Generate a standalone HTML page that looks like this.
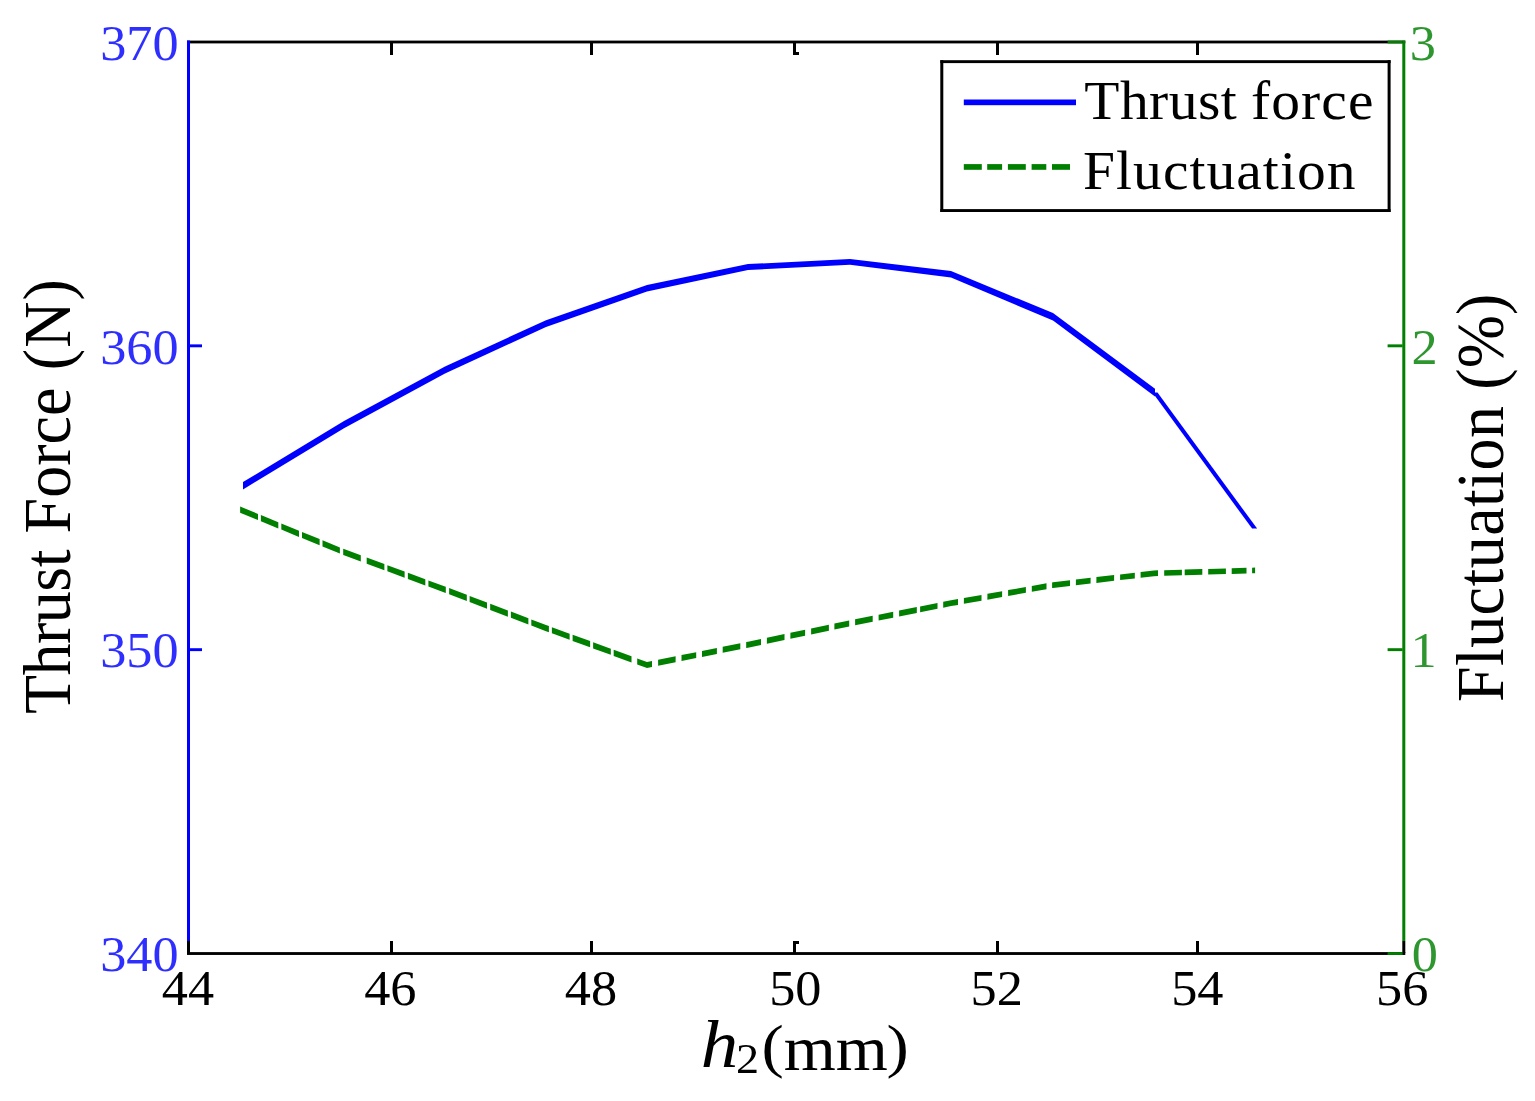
<!DOCTYPE html>
<html lang="en"><head><meta charset="utf-8"><title>Thrust force and fluctuation vs h2</title>
<style>html,body{margin:0;padding:0;background:#fff;overflow:hidden}svg{display:block}text{font-family:"Liberation Serif","DejaVu Serif",serif;}</style></head><body>
<svg width="1535" height="1101" viewBox="0 0 1535 1101">
<rect x="0" y="0" width="1535" height="1101" fill="#fff"/>
<g id="axes">
<rect x="187.00" y="40.60" width="1218.30" height="2.80" fill="#000000"/>
<rect x="187.00" y="952.10" width="1218.30" height="2.85" fill="#000000"/>
<rect x="187.00" y="941.00" width="3.00" height="12.00" fill="#000000"/>
<rect x="390.00" y="941.00" width="3.00" height="12.00" fill="#000000"/>
<rect x="390.00" y="43.00" width="3.00" height="12.00" fill="#000000"/>
<rect x="590.00" y="941.00" width="3.00" height="12.00" fill="#000000"/>
<rect x="590.00" y="43.00" width="3.00" height="12.00" fill="#000000"/>
<rect x="793.00" y="941.00" width="3.00" height="12.00" fill="#000000"/>
<rect x="793.00" y="43.00" width="3.00" height="12.00" fill="#000000"/>
<rect x="996.00" y="941.00" width="3.00" height="12.00" fill="#000000"/>
<rect x="996.00" y="43.00" width="3.00" height="12.00" fill="#000000"/>
<rect x="1196.00" y="941.00" width="3.00" height="12.00" fill="#000000"/>
<rect x="1196.00" y="43.00" width="3.00" height="12.00" fill="#000000"/>
<rect x="1402.30" y="941.00" width="3.00" height="12.00" fill="#000000"/>
<rect x="796.00" y="941.00" width="3.00" height="3.00" fill="#000000"/>
<rect x="796.00" y="52.00" width="3.00" height="3.00" fill="#000000"/>
<rect x="187.00" y="40.50" width="3.00" height="900.50" fill="#0000ff"/>
<rect x="188.00" y="648.22" width="14.00" height="2.90" fill="#0000ff"/>
<rect x="188.00" y="344.38" width="14.00" height="2.90" fill="#0000ff"/>
<rect x="1402.30" y="40.50" width="3.00" height="900.50" fill="#007f00"/>
<rect x="1387.60" y="952.10" width="15.00" height="2.85" fill="#007f00"/>
<rect x="1387.60" y="648.22" width="15.00" height="2.90" fill="#007f00"/>
<rect x="1387.60" y="344.38" width="15.00" height="2.90" fill="#007f00"/>
<rect x="1387.60" y="40.60" width="15.00" height="2.80" fill="#007f00"/>
</g>
<g id="ticklabels">
<text transform="translate(178.60 971.30) scale(1.0456 1.0000)" font-size="50" fill="#0000ff" text-anchor="end" fill-opacity="0.82">340</text>
<text transform="translate(178.60 667.47) scale(1.0456 1.0000)" font-size="50" fill="#0000ff" text-anchor="end" fill-opacity="0.82">350</text>
<text transform="translate(178.60 363.63) scale(1.0456 1.0000)" font-size="50" fill="#0000ff" text-anchor="end" fill-opacity="0.82">360</text>
<text transform="translate(178.60 59.80) scale(1.0456 1.0000)" font-size="50" fill="#0000ff" text-anchor="end" fill-opacity="0.82">370</text>
<text transform="translate(1424.80 971.30) scale(1.0456 1.0000)" font-size="50" fill="#007f00" text-anchor="middle" fill-opacity="0.82">0</text>
<text transform="translate(1423.60 667.47) scale(1.0456 1.0000)" font-size="50" fill="#007f00" text-anchor="middle" fill-opacity="0.82">1</text>
<text transform="translate(1424.50 363.63) scale(1.0456 1.0000)" font-size="50" fill="#007f00" text-anchor="middle" fill-opacity="0.82">2</text>
<text transform="translate(1422.80 59.80) scale(1.0456 1.0000)" font-size="50" fill="#007f00" text-anchor="middle" fill-opacity="0.82">3</text>
<text transform="translate(188.00 1005.30) scale(1.0456 1.0000)" font-size="50" fill="#000000" text-anchor="middle">44</text>
<text transform="translate(390.30 1005.30) scale(1.0456 1.0000)" font-size="50" fill="#000000" text-anchor="middle">46</text>
<text transform="translate(590.90 1005.30) scale(1.0456 1.0000)" font-size="50" fill="#000000" text-anchor="middle">48</text>
<text transform="translate(795.30 1005.30) scale(1.0456 1.0000)" font-size="50" fill="#000000" text-anchor="middle">50</text>
<text transform="translate(996.70 1005.30) scale(1.0456 1.0000)" font-size="50" fill="#000000" text-anchor="middle">52</text>
<text transform="translate(1197.30 1005.30) scale(1.0456 1.0000)" font-size="50" fill="#000000" text-anchor="middle">54</text>
<text transform="translate(1402.20 1005.30) scale(1.0456 1.0000)" font-size="50" fill="#000000" text-anchor="middle">56</text>
</g>
<g id="thrust" fill="#0000ff">
<polygon points="243.0,482.1 344.0,421.0 445.0,366.4 546.0,320.2 647.0,285.1 748.0,264.1 850.0,258.9 951.0,271.1 1053.0,313.1 1155.0,388.7 1155.0,396.5 1053.0,320.5 951.0,277.5 850.0,264.7 748.0,270.1 647.0,291.5 546.0,327.0 445.0,373.4 344.0,428.2 243.0,489.5"/>
<polygon points="1152.5,392.6 1252.1,528.6 1257.1,528.6 1157.5,392.6"/>
</g>
<g id="fluct" fill="#007f00">
<polygon points="240.1,506.5 258.0,513.9 258.0,520.1 240.1,512.7"/>
<polygon points="260.9,515.1 278.3,522.2 278.3,528.4 260.9,521.3"/>
<polygon points="281.3,523.4 299.0,530.7 299.0,536.9 281.3,529.6"/>
<polygon points="302.0,531.9 319.6,539.1 319.6,545.3 302.0,538.1"/>
<polygon points="322.5,540.3 339.9,547.4 339.9,553.6 322.5,546.5"/>
<polygon points="343.2,548.8 344.0,549.1 360.8,555.3 360.8,561.5 344.0,555.3 343.2,554.9"/>
<polygon points="366.7,557.5 384.4,564.1 384.4,570.2 366.7,563.7"/>
<polygon points="387.4,565.2 404.6,571.6 404.6,577.7 387.4,571.3"/>
<polygon points="407.9,572.8 425.3,579.2 425.3,585.4 407.9,578.9"/>
<polygon points="428.4,580.4 445.0,586.5 445.8,586.8 445.8,593.0 445.0,592.7 428.4,586.5"/>
<polygon points="449.1,588.1 466.8,594.8 466.8,601.0 449.1,594.2"/>
<polygon points="469.6,595.9 487.0,602.5 487.0,608.7 469.6,602.1"/>
<polygon points="490.2,603.7 507.9,610.5 507.9,616.7 490.2,609.9"/>
<polygon points="510.9,611.6 528.4,618.3 528.4,624.5 510.9,617.8"/>
<polygon points="531.3,619.4 546.0,625.0 548.9,626.1 548.9,632.2 546.0,631.2 531.3,625.6"/>
<polygon points="551.9,627.2 569.6,633.7 569.6,639.8 551.9,633.3"/>
<polygon points="572.6,634.7 590.1,641.1 590.1,647.3 572.6,640.9"/>
<polygon points="593.1,642.2 610.8,648.7 610.8,654.8 593.1,648.4"/>
<polygon points="613.7,649.8 631.5,656.3 631.5,662.4 613.7,655.9"/>
<polygon points="637.2,658.4 647.0,661.9 652.0,660.9 652.0,667.1 647.0,668.1 637.2,664.5"/>
<polygon points="658.1,659.8 675.6,656.3 675.6,662.2 658.1,665.7"/>
<polygon points="681.5,655.1 696.2,652.2 696.2,658.1 681.5,661.0"/>
<polygon points="702.0,651.0 716.9,648.0 716.9,653.9 702.0,656.9"/>
<polygon points="722.7,646.8 740.3,643.3 740.3,649.2 722.7,652.7"/>
<polygon points="746.2,642.1 748.0,641.7 761.0,639.0 761.0,644.9 748.0,647.7 746.2,648.0"/>
<polygon points="766.9,637.8 784.5,634.1 784.5,640.0 766.9,643.7"/>
<polygon points="790.4,632.8 805.1,629.8 805.1,635.7 790.4,638.8"/>
<polygon points="811.1,628.5 828.9,624.8 828.9,630.7 811.1,634.4"/>
<polygon points="834.4,623.6 849.2,620.5 849.2,626.4 834.4,629.5"/>
<polygon points="855.1,619.3 872.7,615.8 872.7,621.7 855.1,625.2"/>
<polygon points="878.6,614.7 893.2,611.8 893.2,617.7 878.6,620.6"/>
<polygon points="899.1,610.6 916.8,607.1 916.8,613.0 899.1,616.5"/>
<polygon points="920.1,606.4 937.5,602.9 937.5,608.8 920.1,612.3"/>
<polygon points="943.2,601.8 951.0,600.3 958.0,599.0 958.0,604.9 951.0,606.1 943.2,607.7"/>
<polygon points="963.9,598.0 981.5,594.9 981.5,600.7 963.9,603.8"/>
<polygon points="987.4,593.8 1002.1,591.2 1002.1,597.1 987.4,599.7"/>
<polygon points="1008.1,590.1 1025.9,587.0 1025.9,592.8 1008.1,596.0"/>
<polygon points="1031.8,585.9 1046.5,583.3 1046.5,589.2 1031.8,591.8"/>
<polygon points="1052.1,582.4 1053.0,582.2 1070.0,580.2 1070.0,586.0 1053.0,588.0 1052.1,588.1"/>
<polygon points="1075.9,579.5 1090.6,577.8 1090.6,583.6 1075.9,585.3"/>
<polygon points="1096.4,577.1 1114.1,575.1 1114.1,580.8 1096.4,582.9"/>
<polygon points="1120.1,574.4 1134.8,572.7 1134.8,578.4 1120.1,580.1"/>
<polygon points="1140.6,572.0 1154.0,570.4 1158.0,570.3 1158.0,576.1 1154.0,576.2 1140.6,577.8"/>
<polygon points="1164.2,570.2 1181.9,569.7 1181.9,575.3 1164.2,575.8"/>
<polygon points="1184.7,569.6 1202.3,569.1 1202.3,574.7 1184.7,575.2"/>
<polygon points="1208.2,568.9 1225.9,568.4 1225.9,574.1 1208.2,574.6"/>
<polygon points="1231.7,568.3 1246.5,567.8 1246.5,573.5 1231.7,573.9"/>
<polygon points="1252.1,567.7 1255.1,567.6 1255.1,573.2 1252.1,573.3"/>
</g>
<g id="legend">
<rect x="940.30" y="60.20" width="450.30" height="151.80" fill="#fff"/>
<rect x="940.30" y="60.20" width="450.30" height="2.90" fill="#000000"/>
<rect x="940.30" y="209.10" width="450.30" height="2.90" fill="#000000"/>
<rect x="940.30" y="60.20" width="3.00" height="151.80" fill="#000000"/>
<rect x="1387.60" y="60.20" width="3.00" height="151.80" fill="#000000"/>
<rect x="963.80" y="99.50" width="112.20" height="5.70" fill="#0000ff"/>
<rect x="963.80" y="164.10" width="18.00" height="5.70" fill="#007f00"/>
<rect x="987.20" y="164.10" width="14.90" height="5.70" fill="#007f00"/>
<rect x="1007.90" y="164.10" width="17.90" height="5.70" fill="#007f00"/>
<rect x="1031.60" y="164.10" width="14.70" height="5.70" fill="#007f00"/>
<rect x="1052.00" y="164.10" width="18.00" height="5.70" fill="#007f00"/>
<text transform="translate(1084.30 119.10) scale(1.0456 1.0000)" font-size="55" fill="#000000" text-anchor="start" textLength="145.85" lengthAdjust="spacing">Thrust</text>
<text transform="translate(1251.00 119.10) scale(1.0456 1.0000)" font-size="55" fill="#000000" text-anchor="start" textLength="117.16" lengthAdjust="spacing">force</text>
<text transform="translate(1083.00 189.30) scale(1.0456 1.0000)" font-size="55" fill="#000000" text-anchor="start" textLength="260.62" lengthAdjust="spacing">Fluctuation</text>
</g>
<g id="labels">
<text transform="translate(69.60 714.00) scale(1.0456 1.0000) rotate(-90)" font-size="64" fill="#000000" text-anchor="start" textLength="164.50" lengthAdjust="spacing">Thrust</text>
<text transform="translate(69.60 533.50) scale(1.0456 1.0000) rotate(-90)" font-size="64" fill="#000000" text-anchor="start" textLength="146.00" lengthAdjust="spacing">Force</text>
<text transform="translate(69.60 370.20) scale(1.0456 1.0000) rotate(-90)" font-size="64" fill="#000000" text-anchor="start" textLength="91.00" lengthAdjust="spacing">(N)</text>
<text transform="translate(1502.80 702.10) scale(1.0456 1.0000) rotate(-90)" font-size="64" fill="#000000" text-anchor="start" textLength="296.00" lengthAdjust="spacing">Fluctuation</text>
<text transform="translate(1502.80 389.70) scale(1.0456 1.0000) rotate(-90)" font-size="64" fill="#000000" text-anchor="start" textLength="96.00" lengthAdjust="spacing">(%)</text>
<text transform="translate(700.80 1067.00) scale(1.1000 1.0000)" font-size="68" fill="#000000" text-anchor="start" font-style="italic">h</text>
<text transform="translate(736.00 1072.80) scale(1.1000 1.0000)" font-size="42" fill="#000000" text-anchor="start">2</text>
<text transform="translate(761.50 1066.10) scale(1.0456 0.9330)" font-size="64" fill="#000000" text-anchor="start">(</text>
<text transform="translate(783.80 1069.50) scale(1.0456 1.0000)" font-size="64" fill="#000000" text-anchor="start">mm</text>
<text transform="translate(886.60 1066.10) scale(1.0456 0.9330)" font-size="64" fill="#000000" text-anchor="start">)</text>
</g>
</svg></body></html>
